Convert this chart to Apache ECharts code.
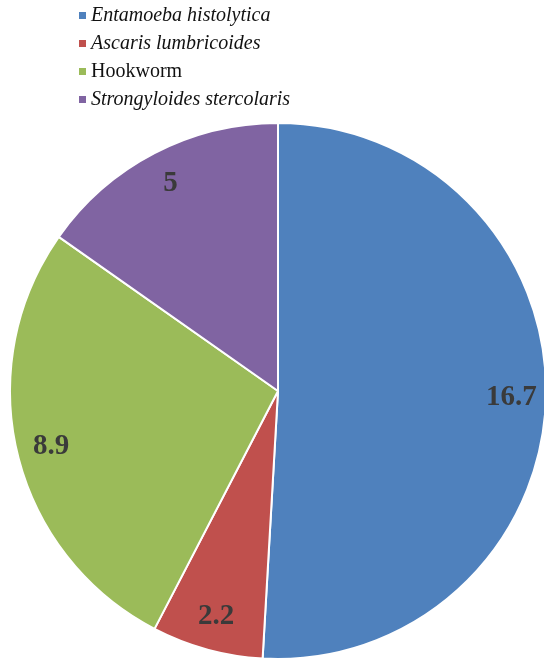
<!DOCTYPE html>
<html>
<head>
<meta charset="utf-8">
<script src="https://cdn.jsdelivr.net/npm/echarts@6/dist/echarts.min.js"></script>
<style>
  html, body { margin: 0; padding: 0; background: #fff; }
  #chartRoot { width: 544px; height: 658px; }
</style>
</head>
<body>
<div id="chartRoot"></div>
<script>
// parasite names and their values
const parasites = ["Entamoeba histolytica", "Ascaris lumbricoides", "Hookworm", "Strongyloides stercolaris"];
const values = [16.7, 2.2, 8.9, 5];
const colors = ["#4F81BD", "#C0504D", "#9BBB59", "#8064A2"];
// only Hookworm is written upright in the legend
const uprightNames = ["Hookworm"];

const pieCenter = [278, 391];
const pieRadius = 268;

const serif = "'Liberation Serif', 'DejaVu Serif', serif";

const pieData = parasites.map((name, i) => ({
    name: name,
    value: values[i],
    itemStyle: { color: colors[i] }
}));

// key drawn as a graphic group (one row per parasite) so it can use a plain canvas font string
const keyRowHeight = 28;
const keyChildren = [];
parasites.forEach((name, i) => {
    keyChildren.push({
        type: "rect",
        shape: { x: 0, y: i * keyRowHeight + 10, width: 7, height: 7 },
        style: { fill: colors[i] }
    });
    keyChildren.push({
        type: "text",
        x: 12,
        y: i * keyRowHeight + 14,
        style: {
            text: name,
            font: (uprightNames.includes(name) ? "normal" : "italic") + " 20px " + serif,
            fill: "#111",
            verticalAlign: "middle"
        }
    });
});

const myChart = echarts.init(document.querySelector("#chartRoot"));
const option = {
    animation: false,
    graphic: [{
        type: "group",
        left: 79,
        top: 6,
        silent: true,
        children: keyChildren
    }],
    series: [
        {
            // the pie itself
            type: "pie",
            center: pieCenter,
            radius: [0, pieRadius],
            startAngle: 90,
            clockwise: true,
            data: pieData,
            itemStyle: { borderColor: "#fff", borderWidth: 2 },
            label: { show: false },
            labelLine: { show: false },
            emphasis: { disabled: true }
        },
        {
            // transparent ring only used to place the value labels near the rim
            type: "pie",
            center: pieCenter,
            radius: [pieRadius * 0.72, pieRadius],
            startAngle: 90,
            clockwise: true,
            silent: true,
            data: pieData.map(d => ({ name: d.name, value: d.value })),
            itemStyle: { color: "rgba(0,0,0,0)" },
            label: {
                show: true,
                position: "inside",
                formatter: "{c}",
                fontFamily: serif,
                fontWeight: "bold",
                fontSize: 29,
                color: "#3a3a3a"
            },
            labelLine: { show: false },
            emphasis: { disabled: true }
        }
    ]
};
myChart.setOption(option, true);
</script>
</body>
</html>
